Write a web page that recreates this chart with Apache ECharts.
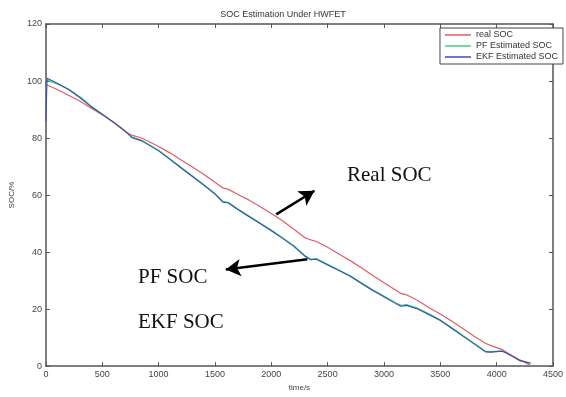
<!DOCTYPE html>
<html><head><meta charset="utf-8">
<script src="https://cdn.jsdelivr.net/npm/echarts@6/dist/echarts.min.js"></script>
<style>html,body{margin:0;padding:0;background:#fff}#c{width:566px;height:397px}</style>
</head><body><div id="c"></div>
<script>
var times = [0, 10, 100, 200, 300, 400, 500, 600, 700, 760, 850, 1000, 1100, 1200, 1300, 1400, 1500, 1570, 1620, 1700, 1800, 1900, 2000, 2100, 2200, 2300, 2350, 2400, 2500, 2600, 2700, 2800, 2900, 3000, 3100, 3150, 3200, 3300, 3400, 3500, 3600, 3700, 3800, 3900, 3950, 4050, 4100, 4200, 4300];
var realSOC = [98.8, 98.7, 97.0, 95.0, 93.0, 90.5, 88.2, 85.5, 82.5, 81.0, 80.0, 77.0, 74.8, 72.3, 69.8, 67.3, 64.5, 62.5, 62.0, 60.3, 58.3, 56.0, 53.5, 51.0, 48.0, 45.0, 44.3, 43.7, 41.7, 39.3, 37.0, 34.5, 31.8, 29.2, 26.8, 25.5, 25.0, 23.0, 20.5, 18.3, 15.8, 13.2, 10.5, 8.0, 7.2, 5.8, 4.5, 2.3, 0.2];
var pfSOC = [100.5, 100.5, 99.0, 97.2, 94.5, 91.2, 88.4, 85.6, 82.6, 80.4, 79.2, 75.7, 72.7, 69.7, 66.7, 63.7, 60.5, 57.8, 57.4, 55.2, 52.7, 50.2, 47.7, 45.0, 42.2, 38.7, 37.5, 37.7, 35.7, 33.7, 31.7, 29.2, 26.8, 24.6, 22.3, 21.3, 21.6, 20.3, 18.3, 16.2, 13.5, 10.7, 8.0, 5.2, 5.1, 5.3, 4.4, 2.1, 1.0];
var ekfSOC = [86.0, 101.0, 99.2, 97.0, 94.2, 91.0, 88.3, 85.5, 82.5, 80.2, 79.0, 75.5, 72.5, 69.5, 66.5, 63.5, 60.3, 57.5, 57.2, 55.0, 52.5, 50.0, 47.5, 44.8, 42.0, 38.5, 37.3, 37.5, 35.5, 33.5, 31.5, 29.0, 26.5, 24.3, 22.0, 21.0, 21.3, 20.0, 18.0, 16.0, 13.3, 10.5, 7.8, 5.0, 4.9, 5.2, 4.3, 2.0, 1.0];
var seriesNames = ['real SOC', 'PF Estimated SOC', 'EKF Estimated SOC'];
var arrowReal = [[2044, 53.2], [2383, 61.5]];
var arrowPF = [[2320, 37.5], [1596, 33.9]];

function pairs(v){ return times.map(function(t,i){ return [t, v[i]]; }); }
var chart = echarts.init(document.getElementById('c'), null, {renderer:'canvas'});
var axisCol = '#555';
var lab = {color:'#444', fontSize:9, fontFamily:'Liberation Sans', formatter:function(v){return String(v);}};
var baseX = {type:'value', min:0, max:4500, interval:500,
  axisLine:{show:true, onZero:false, lineStyle:{color:axisCol, width:1.5}},
  axisTick:{show:true, inside:true, length:4, lineStyle:{color:axisCol}},
  splitLine:{show:false}};
var baseY = {type:'value', min:0, max:120, interval:20,
  axisLine:{show:true, onZero:false, lineStyle:{color:axisCol, width:1.5}},
  axisTick:{show:true, inside:true, length:4, lineStyle:{color:axisCol}},
  splitLine:{show:false}};
var arrowLine = function(pts){ return {silent:true, symbol:['none','arrow'], symbolSize:[13,15],
  lineStyle:{color:'#000', width:2.5, type:'solid'}, label:{show:false},
  data:[[{coord:pts[0]},{coord:pts[1]}]]}; };
chart.setOption({
  animation:false,
  backgroundColor:'#fff',
  title:{text:'SOC Estimation Under HWFET', left:'center', top:5,
    textStyle:{fontSize:9, fontWeight:'normal', color:'#333', fontFamily:'Liberation Sans'}},
  legend:{orient:'vertical', right:3, top:28, data:seriesNames, icon:'rect',
    backgroundColor:'#fff', borderColor:'#444', borderWidth:1, padding:[2,5,2,5],
    itemGap:1, itemWidth:26, itemHeight:1.5,
    textStyle:{fontSize:9, lineHeight:10, color:'#333', fontFamily:'Liberation Sans'}},
  grid:{left:43, right:5, top:24, bottom:21},
  xAxis:[
    Object.assign({}, baseX, {position:'bottom', name:'time/s', nameLocation:'middle', nameGap:14,
      nameTextStyle:{fontSize:8, color:'#444'}, axisLabel:Object.assign({margin:4}, lab)}),
    Object.assign({}, baseX, {position:'top', axisLabel:{show:false}})
  ],
  yAxis:[
    Object.assign({}, baseY, {position:'left', name:'SOC/%', nameLocation:'middle', nameGap:22,
      nameTextStyle:{fontSize:8, color:'#444'}, axisLabel:Object.assign({margin:4}, lab)}),
    Object.assign({}, baseY, {position:'right', axisLabel:{show:false}})
  ],
  series:[
    {name:seriesNames[0], type:'line', data:pairs(realSOC), symbol:'none', z:3,
      lineStyle:{color:'#e45a66', width:1.2}, itemStyle:{color:'#e45a66'},
      markLine:arrowLine(arrowReal)},
    {name:seriesNames[1], type:'line', data:pairs(pfSOC), symbol:'none', z:2,
      lineStyle:{color:'#3fd27f', width:1.3}, itemStyle:{color:'#3fd27f'},
      markLine:arrowLine(arrowPF)},
    {name:seriesNames[2], type:'line', data:pairs(ekfSOC), symbol:'none', z:4,
      lineStyle:{color:'#3a4cb0', width:1.1}, itemStyle:{color:'#3a4cb0'}}
  ],
  graphic:[
    {type:'text', left:347, top:165, style:{text:'Real SOC', font:'21px "Liberation Serif"', fill:'#111'}},
    {type:'text', left:138, top:267, style:{text:'PF SOC', font:'21px "Liberation Serif"', fill:'#111'}},
    {type:'text', left:138, top:312, style:{text:'EKF SOC', font:'21px "Liberation Serif"', fill:'#111'}}
  ]
});
</script></body></html>
